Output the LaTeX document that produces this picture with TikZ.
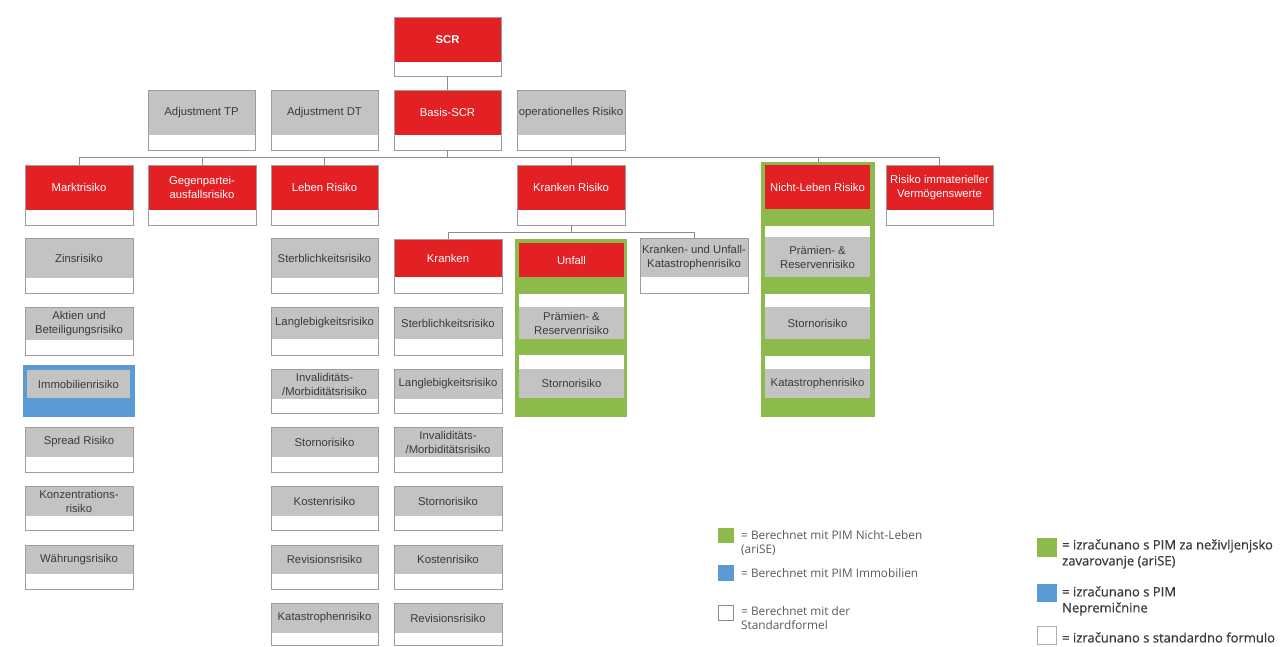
\documentclass[tikz,border=0pt]{standalone}
\usepackage{fontspec}
\setmainfont{Liberation Sans}
\newfontfamily\legfont{Open Sans}
\newfontfamily\legfontb{Open Sans}[FakeBold=0.6]
\definecolor{sred}{HTML}{E32024}
\definecolor{sgray}{HTML}{C3C3C3}
\definecolor{sgreen}{HTML}{8CBB4C}
\definecolor{sblue}{HTML}{5B9BD5}
\definecolor{sline}{HTML}{8C8C8C}
\definecolor{stext}{HTML}{3A3A3A}
\definecolor{legtext}{HTML}{5A5A5A}
\tikzset{
  cell/.style={rectangle, inner sep=0pt, outer sep=0pt, align=center,
    font=\fontsize{11.3}{14}\selectfont},
  redc/.style={cell, fill=sred, text=white},
  grayc/.style={cell, fill=sgray, text=stext},
  whitec/.style={cell, fill=white},
  bluec/.style={cell, fill=sblue},
  greenc/.style={cell, fill=sgreen},
  outline/.style={draw=sline!85, line width=0.9pt},
  conn/.style={draw=sline, line width=0.9pt},
  legsq/.style={rectangle, inner sep=0pt, outer sep=0pt},
  legl/.style={anchor=west, inner sep=0pt, align=left, text=legtext,
    font=\legfont\fontsize{11.8}{14}\selectfont},
  legr/.style={anchor=west, inner sep=0pt, align=left, text=stext,
    font=\legfontb\fontsize{13}{16}\selectfont},
}
% box with coloured top and white bottom, outlined
\newcommand\mkbox[8]{%
  \node[#7, minimum width={(#3-#2)*1pt}, minimum height={(#5-#4)*1pt}]
     (#1) at ({(#2+#3)/2},{(#4+#5)/2}) {#8};
  \node[whitec, minimum width={(#3-#2)*1pt}, minimum height={(#6-#5)*1pt},
     anchor=north] (#1-b) at (#1.south) {};
  \draw[outline] (#1.north west) rectangle (#1-b.south east);
}
% plain filled cell
\newcommand\mkcell[7]{%
  \node[#6, minimum width={(#3-#2)*1pt}, minimum height={(#5-#4)*1pt}]
     (#1) at ({(#2+#3)/2},{(#4+#5)/2}) {#7};
}
\begin{document}
\begin{tikzpicture}[x=1pt,y=-1pt]
\useasboundingbox[fill=white] (0,0) rectangle (1284,646);

% top
\mkbox{scr}{394}{501}{17}{62}{76}{redc}{\textbf{SCR}}
\mkbox{adjtp}{148}{255}{90}{135}{150}{grayc}{Adjustment TP}
\mkbox{adjdt}{271}{378}{90}{135}{150}{grayc}{Adjustment DT}
\mkbox{basis}{394}{501}{90}{135}{150}{redc}{Basis-SCR}
\mkbox{oprisk}{517}{625}{90}{135}{150}{grayc}{operationelles Risiko}

% row 3
\mkbox{markt}{25}{133}{165}{210}{225}{redc}{Marktrisiko}
\mkbox{gegen}{148}{256}{165}{210}{225}{redc}{Gegenpartei-\\ausfallsrisiko}
\mkbox{leben}{271}{378}{165}{210}{225}{redc}{Leben Risiko}
\mkbox{krisk}{517}{625}{165}{210}{225}{redc}{Kranken Risiko}
\mkbox{immat}{886}{993}{165}{210}{225}{redc}{Risiko immaterieller\\Vermögenswerte}

% Nicht-Leben block (green)
\mkcell{nlg}{761}{875}{162}{417}{greenc}{}
\mkcell{nl}{765}{870}{165}{209}{redc}{Nicht-Leben Risiko}
\mkcell{nlw1}{765}{870}{226}{237}{whitec}{}
\mkcell{nl1}{765}{870}{237}{277}{grayc}{Prämien- \&\\Reservenrisiko}
\mkcell{nlw2}{765}{870}{294}{307}{whitec}{}
\mkcell{nl2}{765}{870}{307}{339}{grayc}{Stornorisiko}
\mkcell{nlw3}{765}{870}{356}{369}{whitec}{}
\mkcell{nl3}{765}{870}{369}{398}{grayc}{Katastrophenrisiko}

% Markt column
\mkbox{zins}{25}{133}{238}{278}{293}{grayc}{Zinsrisiko}
\mkbox{aktien}{25}{133}{307}{340}{355}{grayc}{Aktien und\\Beteiligungsrisiko}
\mkcell{immobb}{23}{135}{365}{417}{bluec}{}
\mkcell{immob}{27}{130}{370}{398}{grayc}{Immobilienrisiko}
\mkbox{spread}{25}{133}{427}{457}{472}{grayc}{Spread Risiko}
\mkbox{konz}{25}{133}{486}{516}{530}{grayc}{Konzentrations-\\risiko}
\mkbox{waehr}{25}{133}{545}{574}{589}{grayc}{Währungsrisiko}

% Leben column
\mkbox{lb1}{271}{378}{238}{278}{293}{grayc}{Sterblichkeitsrisiko}
\mkbox{lb2}{271}{378}{307}{339}{355}{grayc}{Langlebigkeitsrisiko}
\mkbox{lb3}{271}{378}{369}{399}{413}{grayc}{Invaliditäts-\\/Morbiditätsrisiko}
\mkbox{lb4}{271}{378}{427}{457}{472}{grayc}{Stornorisiko}
\mkbox{lb5}{271}{378}{486}{516}{530}{grayc}{Kostenrisiko}
\mkbox{lb6}{271}{378}{545}{574}{589}{grayc}{Revisionsrisiko}
\mkbox{lb7}{271}{378}{603}{633}{645}{grayc}{Katastrophenrisiko}

% Kranken column
\mkbox{kr}{394}{502}{239}{277}{293}{redc}{Kranken}
\mkbox{kr1}{394}{502}{307}{339}{355}{grayc}{Sterblichkeitsrisiko}
\mkbox{kr2}{394}{502}{369}{399}{413}{grayc}{Langlebigkeitsrisiko}
\mkbox{kr3}{394}{502}{427}{457}{472}{grayc}{Invaliditäts-\\/Morbiditätsrisiko}
\mkbox{kr4}{394}{502}{486}{516}{530}{grayc}{Stornorisiko}
\mkbox{kr5}{394}{502}{545}{574}{589}{grayc}{Kostenrisiko}
\mkbox{kr6}{394}{502}{603}{633}{645}{grayc}{Revisionsrisiko}

% Unfall block (green)
\mkcell{ufg}{515}{627}{239}{417}{greenc}{}
\mkcell{uf}{519}{624}{243}{277}{redc}{Unfall}
\mkcell{ufw1}{519}{624}{294}{307}{whitec}{}
\mkcell{uf1}{519}{624}{307}{339}{grayc}{Prämien- \&\\Reservenrisiko}
\mkcell{ufw2}{519}{624}{355}{369}{whitec}{}
\mkcell{uf2}{519}{624}{369}{398}{grayc}{Stornorisiko}

% Kranken- und Unfall-Katastrophenrisiko
\mkbox{kukat}{640}{748}{238}{277}{293}{grayc}{Kranken- und Unfall-\\Katastrophenrisiko}

% connectors
\draw[conn] (scr-b.south) -- (basis.north);
\foreach \c in {markt,gegen,leben,krisk,nlg,immat}
  \draw[conn] (basis-b.south) -- ++(0,7) -| (\c.north);
\foreach \c in {kr,kukat}
  \draw[conn] (krisk-b.south) -- ++(0,7) -| (\c.north);

% legend (German)
\node[legsq, fill=sgreen, minimum width=16pt, minimum height=15pt] (lg1) at (726,535.5) {};
\node[legl] (lt1) at (741,543) {= Berechnet mit PIM Nicht-Leben\\(ariSE)};
\node[legsq, fill=sblue, minimum width=16pt, minimum height=16pt] (lg2) at (726,573) {};
\node[legl] (lt2) at (741,573) {= Berechnet mit PIM Immobilien};
\node[legsq, draw=sline, fill=white, line width=0.9pt, minimum width=15pt, minimum height=15pt] (lg3) at (726,612.5) {};
\node[legl] (lt3) at (741,618) {= Berechnet mit der\\Standardformel};

% legend (Slovenian)
\node[legsq, fill=sgreen, minimum width=20pt, minimum height=19pt] (ls1) at (1047,547.5) {};
\node[legr] (st1) at (1062,554) {= izračunano s PIM za neživljenjsko\\zavarovanje (ariSE)};
\node[legsq, fill=sblue, minimum width=20pt, minimum height=18pt] (ls2) at (1047,593) {};
\node[legr] (st2) at (1062,601) {= izračunano s PIM\\Nepremičnine};
\node[legsq, draw=sline!70, fill=white, line width=0.9pt, minimum width=19pt, minimum height=18pt] (ls3) at (1047,635) {};
\node[legr] (st3) at (1062,637.5) {= izračunano s standardno formulo};
\end{tikzpicture}
\end{document}
